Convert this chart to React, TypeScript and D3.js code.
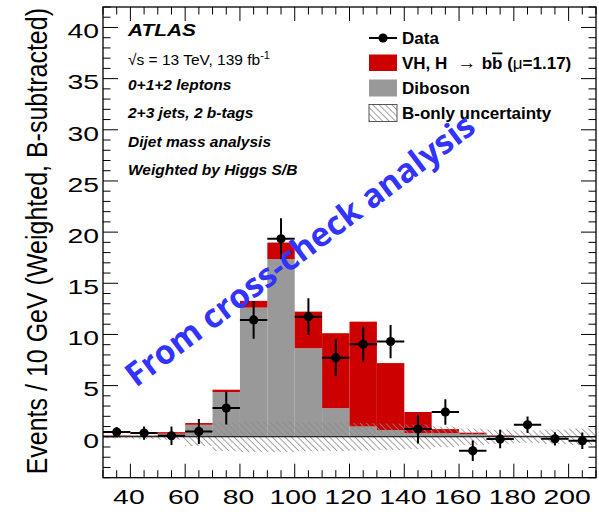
import React from 'react';
import * as d3 from 'd3';

// Bins: 10 GeV wide, lower edges
const binLow = [30, 40, 50, 60, 70, 80, 90, 100, 110, 120, 130, 140, 150, 160, 170, 180, 190, 200];
const diboson = [0.1, 0.1, 0.3, 1.17, 4.37, 12.62, 17.36, 8.65, 2.8, 1.0, 0.65, 0.35, 0.35, 0.25, 0.1, 0.08, 0.04, 0.02];
const vhSignal = [0.05, 0.03, 0.15, 0.17, 0.23, 0.66, 1.62, 3.58, 7.32, 10.25, 6.55, 2.07, 0.4, 0.15, 0.05, 0.02, 0.01, 0.01];
const dataVals = [0.46, 0.36, 0.1, 0.52, 2.8, 11.42, 19.35, 11.74, 7.73, 9.04, 9.3, 0.75, 2.42, -1.37, -0.22, 1.17, -0.2, -0.39];
const dataErr = [0.5, 0.65, 0.9, 1.22, 1.6, 1.84, 2.0, 1.8, 1.8, 1.7, 1.63, 1.4, 1.25, 1.0, 0.9, 0.8, 0.65, 0.8];
const bOnlyUnc = [0.15, 0.2, 0.3, 0.9, 1.4, 1.5, 1.5, 1.4, 1.4, 1.35, 1.3, 1.2, 1.0, 0.8, 0.7, 0.6, 0.7, 0.8];

const xTickLabels = [40, 60, 80, 100, 120, 140, 160, 180, 200];
const yTickLabels = [0, 5, 10, 15, 20, 25, 30, 35, 40];

const yTitle = 'Events / 10 GeV (Weighted, B-subtracted)';
const infoLines = ['0+1+2 leptons', '2+3 jets, 2 b-tags', 'Dijet mass analysis', 'Weighted by Higgs S/B'];
const watermark = 'From cross-check analysis';

const BIN_W = 10;
const RED = '#cc0000';
const GRAY = '#999999';
const FONT = '"Liberation Sans", Arial, Helvetica, sans-serif';

export default function App() {
  const W = 599, H = 523;
  const x = d3.scaleLinear().domain([30, 210]).range([103, 596]);
  const y = d3.scaleLinear().domain([-4, 42]).range([477.7, 7]);
  const [x0, x1] = x.range();
  const [yb, yt] = y.range();

  const xMinor = d3.range(30, 210.01, 5);
  const yMinor = d3.range(-4, 42.01, 1);
  const SX = 1.35;

  return (
    <svg width={W} height={H} style={{ position: 'absolute', left: 0, top: 0, background: '#fff' }}>
      <defs>
        <pattern id="hatch" width="4.5" height="4.5" patternUnits="userSpaceOnUse" patternTransform="rotate(-45)">
          <line x1="0.5" y1="0" x2="0.5" y2="4.5" stroke="#8a8a8a" strokeWidth="0.8" />
        </pattern>
        <clipPath id="plotclip">
          <rect x={x0} y={yt} width={x1 - x0} height={yb - yt} />
        </clipPath>
      </defs>
      <rect x={0} y={0} width={W} height={H} fill="#fff" />

      <g clipPath="url(#plotclip)">
        {binLow.map((b, i) => (
          <rect key={'g' + i} x={x(b)} width={x(b + BIN_W) - x(b)} y={y(diboson[i])} height={y(0) - y(diboson[i])} fill={GRAY} />
        ))}
        {binLow.map((b, i) => (
          <rect key={'r' + i} x={x(b)} width={x(b + BIN_W) - x(b)} y={y(diboson[i] + vhSignal[i])} height={y(diboson[i]) - y(diboson[i] + vhSignal[i])} fill={RED} />
        ))}
        {binLow.map((b, i) => (
          <rect key={'h' + i} x={x(b)} width={x(b + BIN_W) - x(b)} y={y(bOnlyUnc[i])} height={y(-bOnlyUnc[i]) - y(bOnlyUnc[i])} fill="url(#hatch)" />
        ))}
        <line x1={x0} x2={x1} y1={y(0)} y2={y(0)} stroke="#000" strokeWidth={1.2} />
        {binLow.map((b, i) => {
          const cx = x(b + BIN_W / 2);
          const cy = y(dataVals[i]);
          return (
            <g key={'d' + i}>
              <line x1={x(b)} x2={x(b + BIN_W)} y1={cy} y2={cy} stroke="#000" strokeWidth={2} />
              <line x1={cx} x2={cx} y1={y(dataVals[i] + dataErr[i])} y2={y(dataVals[i] - dataErr[i])} stroke="#000" strokeWidth={2} />
              <circle cx={cx} cy={cy} r={4.6} fill="#000" />
            </g>
          );
        })}
      </g>

      {/* frame */}
      <rect x={x0} y={yt} width={x1 - x0} height={yb - yt} fill="none" stroke="#000" strokeWidth={1.3} />

      {/* x ticks */}
      {xMinor.map((v) => {
        const major = v % 20 === 0;
        const len = major ? 14 : 7.5;
        return (
          <g key={'xt' + v}>
            <line x1={x(v)} x2={x(v)} y1={yb} y2={yb - len} stroke="#000" strokeWidth={1} />
            <line x1={x(v)} x2={x(v)} y1={yt} y2={yt + len} stroke="#000" strokeWidth={1} />
          </g>
        );
      })}
      {/* y ticks */}
      {yMinor.map((v) => {
        const major = v % 5 === 0;
        const len = major ? 15 : 7.5;
        return (
          <g key={'yt' + v}>
            <line x1={x0} x2={x0 + len} y1={y(v)} y2={y(v)} stroke="#000" strokeWidth={1} />
            <line x1={x1} x2={x1 - len} y1={y(v)} y2={y(v)} stroke="#000" strokeWidth={1} />
          </g>
        );
      })}

      {/* tick labels */}
      {xTickLabels.map((v) => (
        <text key={'xl' + v} transform={`translate(${x(v) - 1.5},504) scale(${SX},1)`} textAnchor="middle" fontFamily={FONT} fontSize={21}>{v}</text>
      ))}
      {yTickLabels.map((v) => (
        <text key={'yl' + v} transform={`translate(99,${y(v) + 10.8}) scale(${SX},1)`} textAnchor="end" fontFamily={FONT} fontSize={21}>{v}</text>
      ))}

      {/* y axis title */}
      <text transform={`translate(47,8) rotate(-90) scale(1,1.2)`} textAnchor="end" fontFamily={FONT} fontSize={25}>{yTitle}</text>

      {/* ATLAS block */}
      <text x={128} y={36} fontFamily={FONT} fontSize={16} fontWeight="bold" fontStyle="italic" textLength={68} lengthAdjust="spacingAndGlyphs">ATLAS</text>
      <text x={128} y={65} fontFamily={FONT} fontSize={15.5}>
        √s = 13 TeV, 139 fb<tspan dy={-6} fontSize={11}>-1</tspan>
      </text>
      {infoLines.map((t, i) => (
        <text key={'il' + i} x={128} y={90 + i * 28.4} fontFamily={FONT} fontSize={15.5} fontWeight="bold" fontStyle="italic">{t}</text>
      ))}

      {/* legend */}
      <g fontFamily={FONT} fontSize={17} fontWeight="bold">
        <line x1={369} x2={397} y1={38} y2={38} stroke="#000" strokeWidth={2} />
        <circle cx={383} cy={38} r={4.6} fill="#000" />
        <text x={402} y={43.5}>Data</text>

        <rect x={369} y={54.5} width={28} height={16.5} fill={RED} />
        <text x={402} y={68.5}>
          VH, H <tspan fontWeight="normal" fontSize={19}>{'\u00a0→\u00a0'}</tspan>b<tspan style={{ textDecoration: 'overline' }}>b</tspan> (<tspan fontWeight="normal">μ</tspan>=1.17)
        </text>

        <rect x={369} y={79.5} width={28} height={17} fill={GRAY} />
        <text x={402} y={93.5}>Diboson</text>

        <rect x={369} y={104.5} width={28} height={17} fill="url(#hatch)" stroke="#555" strokeWidth={1} />
        <text x={402} y={118.5}>B-only uncertainty</text>
      </g>

      {/* watermark */}
      <text transform="translate(136,388) rotate(-37)" fontFamily='"Open Sans", "DejaVu Sans", sans-serif' fontWeight="bold" fontSize={33} fill="#3333ff">{watermark}</text>
    </svg>
  );
}
